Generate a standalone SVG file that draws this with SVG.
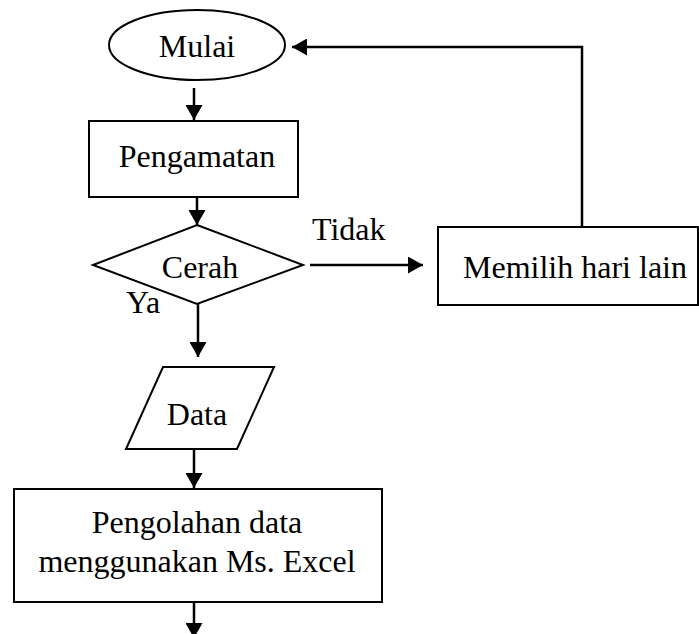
<svg xmlns="http://www.w3.org/2000/svg" width="699" height="634" viewBox="0 0 699 634">
<style>
.shape{fill:#fff;stroke:#000;stroke-width:2}
.t{font-family:"Liberation Serif","Times New Roman",serif;font-size:32px;fill:#000;text-anchor:middle}
.tl{font-family:"Liberation Serif","Times New Roman",serif;font-size:32px;fill:#000}
.c{fill:none;stroke:#000;stroke-width:2.5;marker-end:url(#ah)}
</style>
<defs>
<marker id="ah" markerUnits="userSpaceOnUse" markerWidth="16" markerHeight="17" viewBox="0 0 15 17" refX="15" refY="8.5" orient="auto">
<path d="M0,0 L15,8.5 L0,17 z" fill="#000"/>
</marker>
</defs>
<rect width="699" height="634" fill="#fff"/>
<g id="mulai">
<ellipse class="shape" cx="197" cy="45" rx="88" ry="35"/>
<text class="t" x="197" y="57">Mulai</text>
</g>
<g id="pengamatan">
<rect class="shape" x="89" y="121" width="209" height="76"/>
<text class="t" x="197" y="167">Pengamatan</text>
</g>
<g id="cerah">
<polygon class="shape" points="197,225 303,265 197,304 93,265"/>
<text class="t" x="200" y="278">Cerah</text>
</g>
<g id="memilih">
<rect class="shape" x="438" y="227" width="260" height="78"/>
<text class="t" x="575" y="278">Memilih hari lain</text>
</g>
<g id="data">
<polygon class="shape" points="163,367 274,367 237,449 126,449"/>
<text class="t" x="197" y="425">Data</text>
</g>
<g id="pengolahan">
<rect class="shape" x="14" y="489" width="368" height="113"/>
<text class="t" x="197" y="533">Pengolahan data</text>
<text class="t" x="197" y="572">menggunakan Ms. Excel</text>
</g>
<g id="labels">
<text class="tl" x="312" y="240">Tidak</text>
<text class="tl" x="126" y="313">Ya</text>
</g>
<g id="connectors">
<path class="c" d="M194,88 L194,120"/>
<path class="c" d="M197,197 L197,225"/>
<path class="c" d="M310,265 L423,265"/>
<path class="c" d="M582,227 L582,47 L292,47"/>
<path class="c" d="M198,304 L198,357"/>
<path class="c" d="M194,449 L194,488"/>
<path class="c" d="M194,602 L194,638"/>
</g>
</svg>
